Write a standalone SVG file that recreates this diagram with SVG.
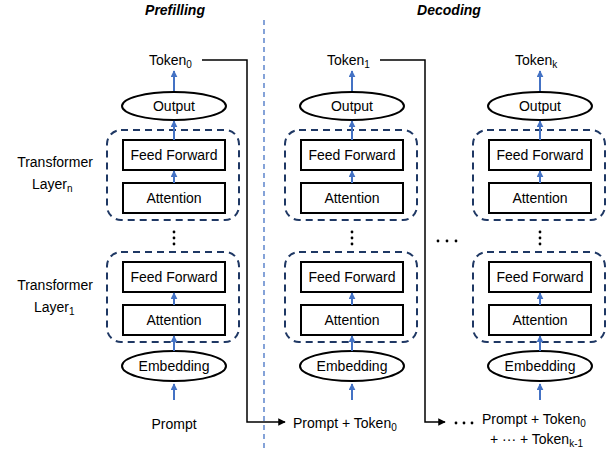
<svg xmlns="http://www.w3.org/2000/svg" width="608" height="450" viewBox="0 0 608 450">
  <defs>
    <style>
      text { font-family: "Liberation Sans", Arial, sans-serif; font-size: 14px; fill: #000; }
      .title { font-weight: bold; font-style: italic; }
      .mid { text-anchor: middle; }
      .sub { font-size: 10px; }
      .layer { fill: none; stroke: #1f3864; stroke-width: 2; stroke-dasharray: 7 5; }
      .block { fill: #fff; stroke: #000; stroke-width: 2; }
      .oval { fill: #fff; stroke: #000; stroke-width: 2; }
      .flow { stroke: #4472c4; stroke-width: 2; fill: none; marker-end: url(#blueHead); }
      .link { stroke: #000; stroke-width: 1.5; fill: none; marker-end: url(#blackHead); }
      .divider { stroke: #4472c4; stroke-width: 1.3; stroke-dasharray: 5 4; }
    </style>
    <marker id="blueHead" viewBox="0 0 10 10" refX="9" refY="5" markerWidth="3.5" markerHeight="3.5" orient="auto">
      <path d="M0,0 L10,5 L0,10 z" fill="#4472c4"/>
    </marker>
    <marker id="blackHead" viewBox="0 0 10 10" refX="9" refY="5" markerWidth="5" markerHeight="5" orient="auto">
      <path d="M0,0 L10,5 L0,10 z" fill="#000"/>
    </marker>
    <!-- one transformer stack column, centred on x = 0 -->
    <g id="stack">
      <ellipse class="oval" cx="0" cy="106" rx="52" ry="14"/>
      <rect class="layer" x="-67" y="130" width="132" height="90" rx="14"/>
      <rect class="block" x="-51" y="140" width="102" height="30"/>
      <rect class="block" x="-51" y="183" width="102" height="30"/>
      <rect class="layer" x="-67" y="252" width="132" height="90" rx="14"/>
      <rect class="block" x="-51" y="262" width="102" height="30"/>
      <rect class="block" x="-51" y="305" width="102" height="30"/>
      <ellipse class="oval" cx="0" cy="366" rx="52" ry="15"/>
      <text class="mid" x="0" y="111">Output</text>
      <text class="mid" x="0" y="160">Feed Forward</text>
      <text class="mid" x="0" y="203">Attention</text>
      <text class="mid" x="0" y="282">Feed Forward</text>
      <text class="mid" x="0" y="325">Attention</text>
      <text class="mid" x="0" y="371">Embedding</text>
      <circle cx="0" cy="232" r="1.4"/>
      <circle cx="0" cy="238" r="1.4"/>
      <circle cx="0" cy="244" r="1.4"/>
      <line class="flow" x1="0" y1="91" x2="0" y2="71"/>
      <line class="flow" x1="0" y1="140" x2="0" y2="121"/>
      <line class="flow" x1="0" y1="183" x2="0" y2="171"/>
      <line class="flow" x1="0" y1="305" x2="0" y2="293"/>
      <line class="flow" x1="0" y1="351" x2="0" y2="336"/>
      <line class="flow" x1="0" y1="400" x2="0" y2="384"/>
    </g>
  </defs>

  <!-- phase titles and divider -->
  <text class="title mid" x="175" y="15">Prefilling</text>
  <text class="title mid" x="449" y="15">Decoding</text>
  <line class="divider" x1="264" y1="20" x2="264" y2="450"/>

  <!-- layer labels -->
  <g id="label-layer-n">
    <text class="mid" x="55" y="167">Transformer</text>
    <text x="32" y="189">Layer<tspan class="sub" dy="3">n</tspan></text>
  </g>
  <g id="label-layer-1">
    <text class="mid" x="55" y="290">Transformer</text>
    <text x="34" y="312">Layer<tspan class="sub" dy="3">1</tspan></text>
  </g>

  <!-- prefilling column -->
  <g id="prefill">
    <use href="#stack" x="174"/>
    <text x="149" y="65">Token<tspan class="sub" dy="3">0</tspan></text>
    <text class="mid" x="174" y="429">Prompt</text>
  </g>

  <!-- first decoding step -->
  <g id="decode-1">
    <use href="#stack" x="352"/>
    <text x="327" y="65">Token<tspan class="sub" dy="3">1</tspan></text>
    <text x="293" y="428">Prompt + Token<tspan class="sub" dy="3">0</tspan></text>
  </g>

  <!-- k-th decoding step -->
  <g id="decode-k">
    <use href="#stack" x="540"/>
    <text x="515" y="65">Token<tspan class="sub" dy="3">k</tspan></text>
    <text x="482" y="424">Prompt + Token<tspan class="sub" dy="3">0</tspan></text>
    <text x="490" y="444">+ ··· + Token<tspan class="sub" dy="3">k-1</tspan></text>
  </g>

  <!-- ellipses between decoding steps -->
  <g id="gaps">
    <circle cx="438" cy="241" r="1.4"/>
    <circle cx="447" cy="241" r="1.4"/>
    <circle cx="456" cy="241" r="1.4"/>
    <circle cx="456" cy="423" r="1.4"/>
    <circle cx="464" cy="423" r="1.4"/>
    <circle cx="472" cy="423" r="1.4"/>
  </g>

  <!-- generated token fed back as next input -->
  <g id="connectors">
    <polyline class="link" points="202,60 247,60 247,422 285,422"/>
    <polyline class="link" points="380,60 425,60 425,422 445,422"/>
  </g>
</svg>
